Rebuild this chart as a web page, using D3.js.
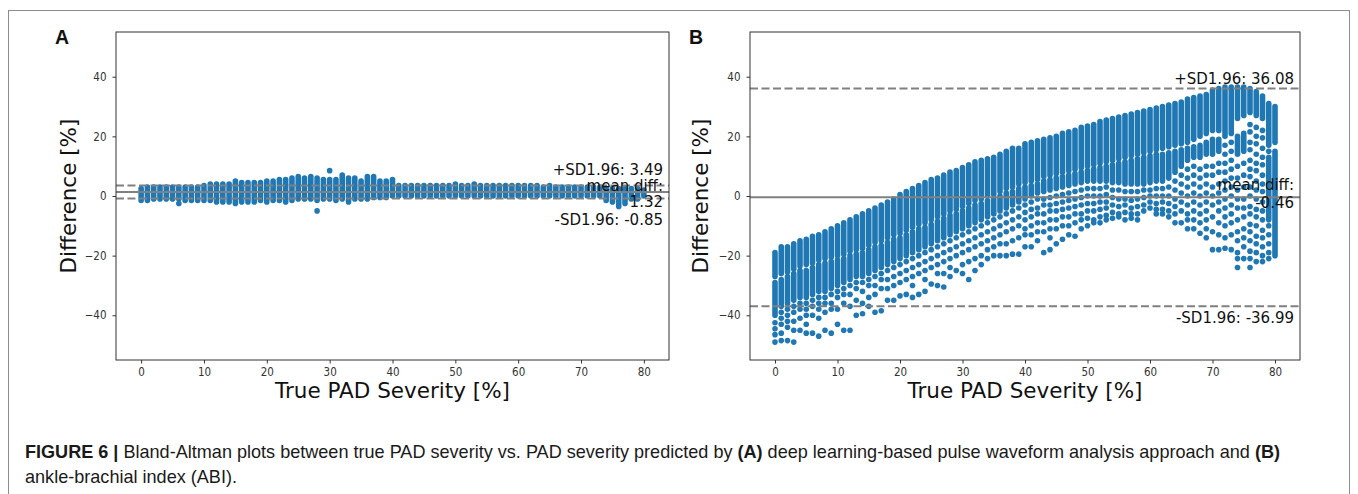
<!DOCTYPE html>
<html>
<head>
<meta charset="utf-8">
<script src="https://cdn.jsdelivr.net/npm/d3@7/dist/d3.min.js"></script>
<style>
  body { margin: 0; background: #fff; }
  svg { display: block; }
  .tick-label { font-family: "DejaVu Sans Condensed", "DejaVu Sans", sans-serif; font-stretch: condensed; font-size: 11.5px; fill: #333; }
  .axis-title { font-family: "DejaVu Sans", sans-serif; font-size: 21.5px; fill: #111; }
  .annot { font-family: "DejaVu Sans", sans-serif; font-size: 15px; fill: #111; }
  .panel-tag { font-family: "Liberation Sans", Arial, sans-serif; font-weight: bold; font-size: 19.5px; fill: #111; }
  .caption { font-family: "Liberation Sans Narrow", "Liberation Sans", Arial, sans-serif; font-size: 17.5px; fill: #1a1a1a; }
</style>
</head>
<body>
<svg id="fig" width="1358" height="494"></svg>
<script>
// True PAD severity levels (x categories, %)
const severity = [0,1,2,3,4,5,6,7,8,9,10,11,12,13,14,15,16,17,18,19,20,
  21,22,23,24,25,26,27,28,29,30,31,32,33,34,35,36,37,38,39,40,
  41,42,43,44,45,46,47,48,49,50,51,52,53,54,55,56,57,58,59,60,
  61,62,63,64,65,66,67,68,69,70,71,72,73,74,75,76,77,78,79,80];

const xTicks = [0, 10, 20, 30, 40, 50, 60, 70, 80];
const yTicks = [-40, -20, 0, 20, 40];

// Summary statistics per panel: [A, B]
const panelTags = ["A", "B"];
const meanDiff = [1.32, -0.46];
const sdUpper  = [3.49, 36.08];
const sdLower  = [-0.85, -36.99];

// Panel A: stacked markers at each severity, as [low, high] runs of difference (%)
const aRuns = [
  [-1.5,2.5],[-1.5,3],[-1,3],[-1,3],[-1,3],[-1,3],[-1,3],[-1.5,3],[-1.5,3],[-1.5,3],[-1.5,3.5],
  [-1.5,4],[-2,4],[-2,4],[-2,4],[-2.5,5],[-2,4.5],[-2,4.5],[-2,4.5],[-1.5,4.5],[-2,5],
  [-1.5,5],[-1.5,5.5],[-2,5.5],[-1.5,6],[-1,6.5],[-1,6],[-1,6.5],[-1.5,6],[-1,5.5],[-1,5.5],
  [-1.5,5.5],[-1,7],[-2,6],[-1,6],[-1,5],[-1,6.5],[-0.5,6.5],[-0.5,5],[-0.5,5],[0,5.5],
  [0,3.5],[0,3.5],[0,3.5],[0,3.5],[0,3.5],[0,3.5],[0,3.5],[0,3.5],[0,3.5],[0,4],
  [0,3.5],[0,3.5],[0,4],[0,3.5],[0,3.5],[0,3.5],[0,3.5],[0,3.5],[0,3.5],[0,3.5],
  [0,3.5],[0,3.5],[0,3.5],[0,3],[0,3.5],[0,3],[0,3],[0,3],[0,3],[0,3],
  [0,3],[0,3],[0,3],[-1.5,2.5],[-2,2.5],[-3.5,2.5],[-2.5,2.5],[-1,2.5],[-1,2.5],[0,2]
];
// Panel A: isolated markers
const aOutSeverity = [6, 28, 30];
const aOutDiff = [-2.5, -5, 8.5];

// Panel B: dense runs of markers per severity, [low, high] difference (%)
const bRuns = [
  [[-40,-29],[-27,-19]], [[-37,-28],[-26,-17]], [[-36,-27],[-25.5,-17]], [[-35,-26],[-24.5,-16]],
  [[-34,-25],[-23.5,-15]], [[-34,-25],[-23,-14.5]], [[-33,-24],[-22.5,-13.5]], [[-32,-23],[-21.5,-13]],
  [[-32,-22.5],[-21,-12]], [[-31,-22],[-20.5,-11]], [[-30,-21.5],[-20,-10]], [[-29,-21],[-19.5,-9]],
  [[-28,-20],[-18.5,-8]], [[-27,-19.5],[-18,-7]], [[-27,-19],[-17.5,-6]], [[-26,-18],[-16.5,-5]],
  [[-25,-17],[-15.5,-4]], [[-24,-16.5],[-15,-3]], [[-23,-15.5],[-14,-2]], [[-22,-14.5],[-13,-1]],
  [[-21,-14],[-12.5,0.5]], [[-20,-13],[-11.5,1.5]], [[-19,-12],[-10.5,2.5]], [[-18,-11],[-9.5,3.5]],
  [[-17,-10.5],[-9,4.5]], [[-16,-9.5],[-8,5.5]], [[-15,-8.5],[-7,6]], [[-14,-7.5],[-6,7]],
  [[-13,-6.5],[-5,8]], [[-12,-6],[-4.5,8.5]], [[-11,-5],[-3.5,9.5]], [[-10,-4],[-2.5,10.5]],
  [[-9,-3],[-1.5,11.5]], [[-8,-2.5],[-1,12]], [[-7,-1.5],[0,12.5]], [[-6,-1],[0.5,13]],
  [[-5,0],[1.5,14]], [[-4,1],[2.5,15]], [[-3,1.5],[3,16]], [[-2,2.5],[4,16]],
  [[-1,3],[4.5,17.5]], [[0,3.5],[5,18]], [[1,4],[5.5,18.5]], [[1.5,5],[6.5,19]],
  [[2,5.5],[7,19.5]], [[2.5,6],[7.5,20]], [[3,6.5],[8,21]], [[3.5,7],[8.5,21.5]],
  [[4,7.5],[9,22]], [[4.5,8],[9.5,23]], [[5,8.5],[10,23.5]], [[5,9],[10.5,24]],
  [[5,9.5],[11,25]], [[5,10],[11.5,25.5]], [[4.5,10.5],[12,26]], [[4.5,11],[12.5,26.5]],
  [[4,11.5],[13,27]], [[4,12],[13.5,27.5]], [[4,12.5],[14,28]], [[4,13],[14.5,28.5]],
  [[4.5,13.5],[15,29]], [[5,14],[15.5,29.5]], [[5,14],[16,30]], [[6,14.5],[16.5,30.5]],
  [[8,15],[17,31]], [[10,15.5],[17.5,31.5]], [[12,16],[18,32.5]], [[13,16.5],[19,33]],
  [[13,17],[20,33.5]], [[14,18],[21,34]], [[14,19],[22,35.5]], [[15,19],[22,36]],
  [[20,36.5]], [[21,36.5]], [[14,20],[26,36.5]], [[15,21],[27,36.5]],
  [[28,36]], [[27,35]], [[26,33.5]], [[-8,13],[17,31]], [[-20,15],[18,30]]
];

// Panel B: individual markers below/around the dense runs, per severity
const bDots = [
  [-42.5,-44.5,-46.5,-49], [-39,-41,-43,-46,-48.5], [-38,-40,-42,-44,-48.5], [-37,-39,-42,-45,-49],
  [-36,-38,-41,-45], [-36,-38,-40,-43,-46], [-35,-37,-40,-46], [-34,-36,-38,-41,-47],
  [-34,-36,-39,-45], [-33,-36,-38,-46], [-32,-34,-38,-43], [-31,-33,-36,-45],
  [-30,-33,-37,-45], [-29,-31,-35,-40], [-29,-32,-36,-39.5], [-28,-30,-34,-37],
  [-27,-30,-33,-39], [-26,-28,-31,-38.5], [-25,-28,-31,-35], [-24,-27,-30,-35],
  [-23,-26,-29,-33.5], [-22,-25,-28,-33], [-21,-24,-27,-30,-34], [-20,-23,-26,-33],
  [-19,-22,-25,-28,-32], [-18,-21,-24,-29.5], [-17,-20,-23,-26,-30], [-16,-19,-22,-26,-30.5],
  [-15,-18,-21,-24,-27], [-14,-17,-20,-25], [-13,-16,-19,-23,-26], [-12,-15,-18,-22,-28],
  [-11,-14,-17,-21,-25], [-10,-13,-16,-20,-23], [-9,-12,-15,-18,-21], [-8,-11,-14,-17,-20],
  [-7,-10,-13,-16,-20], [-6,-9,-12,-16,-20], [-5,-8,-11,-15,-19.5], [-4,-7,-10,-14,-19.5],
  [-3,-5.5,-8,-11,-13,-17], [-2,-4.5,-7,-10,-13,-17], [-1,-4,-6,-9,-12,-15], [-1,-3,-6,-9,-12,-19],
  [-0.5,-3,-5,-8,-11,-14,-18], [0,-2.5,-5,-8,-11,-16], [0.5,-2,-4.5,-7,-10,-14.5], [1,-1.5,-4,-7,-10,-13],
  [1.5,-1,-3.5,-6,-9,-13.5], [2,-0.5,-3,-6,-8,-11], [2.5,0,-2.5,-5,-7.5,-10], [2.5,0,-2.5,-5,-8,-9],
  [2.5,0,-2,-4.5,-7,-9], [3,0.5,-2,-4,-6.5,-8], [2,-0.5,-3,-5.5,-7.5], [2,-1,-3.5,-6,-7],
  [1.5,-1,-3,-5.5,-8], [1.5,-1.5,-4,-6,-7.5], [1.5,-1,-3.5,-6,-8], [2,-0.5,-3,-5],
  [2,0,-2,-4], [2.5,0,-2.5,-4.5,-6], [2.5,0,-2,-4.5,-6], [3,0,-2.5,-5,-7],
  [5,2,-1,-3.5,-6,-9], [7,4,1,-2,-5,-9], [9,6,3,0,-3,-6,-8,-11], [10,7,4,1,-2,-5,-8,-11],
  [9,6,3,0,-3,-6,-9,-12.5], [10,7,4,1,-2,-5,-8,-11,-14], [10,7,3,0,-3,-7,-12,-18], [11,8,4,1,-2,-5,-9,-13,-18],
  [17,14,11,8,5,2,-1,-4,-7,-10,-14,-17.5], [18,15,12,9,6,3,0,-3,-6,-9,-13,-18],
  [10,6,2,-1,-4,-8,-12,-15,-19,-21,-24], [11,7,3,-1,-4,-7,-11,-14,-17,-21],
  [24,21.5,18,15.5,12,9,6.5,3,0,-3.5,-6,-9.5,-12,-15,-18.5,-21,-24],
  [23,20,17.5,14,11,8.5,5,2,-1,-4.5,-7,-10,-13.5,-16,-19,-22],
  [22,19.5,16,13,10.5,7,4,1.5,-2,-5,-8,-11.5,-14,-17,-20,-22],
  [15,-10,-13,-16,-19,-21], []
];

const BLUE = "#1f77b4";
const GREY = "#808080";
const R = 2.8;

const svg = d3.select("#fig");

// outer figure frame
svg.append("rect")
  .attr("x", 8.5).attr("y", 10.5).attr("width", 1341).attr("height", 520)
  .attr("fill", "none").attr("stroke", "#8c8c8c").attr("stroke-width", 1);

const panels = [
  { left: 116, right: 669, tagX: 55, yTitleX: 76, textOff: { up: -10.5, m1: -1.5, m2: 14.5, lo: 26.5 } },
  { left: 750, right: 1300, tagX: 689, yTitleX: 708, textOff: { up: -4, m1: -7, m2: 10.5, lo: 16.5 } }
];
const plotTop = 32, plotBottom = 360;

panels.forEach((p, pi) => {
  const x = d3.scaleLinear().domain([-4, 84]).range([p.left, p.right]);
  const y = d3.scaleLinear().domain([-55, 55]).range([plotBottom, plotTop]);
  const g = svg.append("g");

  // markers
  const marks = g.append("g").attr("fill", BLUE);
  if (pi === 0) {
    const runs = aRuns.map((r, i) => ({ s: severity[i], lo: r[0], hi: r[1] }));
    marks.selectAll("rect").data(runs).join("rect")
      .attr("x", d => x(d.s) - R).attr("width", 2 * R)
      .attr("y", d => y(d.hi) - R).attr("height", d => y(d.lo) - y(d.hi) + 2 * R)
      .attr("rx", R).attr("ry", R);
    marks.selectAll("circle").data(aOutSeverity.map((s, i) => ({ s, v: aOutDiff[i] }))).join("circle")
      .attr("cx", d => x(d.s)).attr("cy", d => y(d.v)).attr("r", R);
  } else {
    const runs = bRuns.flatMap((col, i) => col.map(r => ({ s: severity[i], lo: r[0], hi: r[1] })));
    marks.selectAll("rect").data(runs).join("rect")
      .attr("x", d => x(d.s) - R).attr("width", 2 * R)
      .attr("y", d => y(d.hi) - R).attr("height", d => y(d.lo) - y(d.hi) + 2 * R)
      .attr("rx", R).attr("ry", R);
    const dots = bDots.flatMap((col, i) => col.map(v => ({ s: severity[i], v })));
    marks.selectAll("circle").data(dots).join("circle")
      .attr("cx", d => x(d.s)).attr("cy", d => y(d.v)).attr("r", R);
  }

  // mean and limits of agreement
  const refLines = [
    { v: meanDiff[pi], dash: null },
    { v: sdUpper[pi], dash: "8,3.5" },
    { v: sdLower[pi], dash: "8,3.5" }
  ];
  g.append("g").selectAll("line").data(refLines).join("line")
    .attr("x1", p.left).attr("x2", p.right)
    .attr("y1", d => y(d.v)).attr("y2", d => y(d.v))
    .attr("stroke", GREY).attr("stroke-width", 2)
    .attr("stroke-dasharray", d => d.dash);

  // frame
  g.append("rect").attr("x", p.left).attr("y", plotTop)
    .attr("width", p.right - p.left).attr("height", plotBottom - plotTop)
    .attr("fill", "none").attr("stroke", "#333").attr("stroke-width", 1);

  // axes
  const xAxis = d3.axisBottom(x).tickValues(xTicks).tickSize(3.5).tickPadding(4)
    .tickFormat(d => d3.format("d")(d));
  const yAxis = d3.axisLeft(y).tickValues(yTicks).tickSize(3.5).tickPadding(6)
    .tickFormat(d => (d < 0 ? "\u2212" : "") + Math.abs(d));
  const gx = g.append("g").attr("transform", `translate(0,${plotBottom})`).call(xAxis);
  const gy = g.append("g").attr("transform", `translate(${p.left},0)`).call(yAxis);
  [gx, gy].forEach(ax => {
    ax.attr("font-family", null).attr("font-size", null);
    ax.select(".domain").remove();
    ax.selectAll(".tick line").attr("stroke", "#333");
    ax.selectAll(".tick text").attr("class", "tick-label").attr("fill", null);
  });

  // axis titles
  g.append("text").attr("class", "axis-title")
    .attr("x", (p.left + p.right) / 2).attr("y", 398)
    .attr("text-anchor", "middle").text("True PAD Severity [%]");
  g.append("text").attr("class", "axis-title")
    .attr("transform", `translate(${p.yTitleX},${(plotTop + plotBottom) / 2}) rotate(-90)`)
    .attr("text-anchor", "middle").text("Difference [%]");

  // annotations
  const tx = p.right - 6;
  const o = p.textOff;
  const fmt = v => v.toFixed(2);
  const notes = [
    { y: y(sdUpper[pi]) + o.up, t: "+SD1.96: " + fmt(sdUpper[pi]) },
    { y: y(meanDiff[pi]) + o.m1, t: "mean diff:" },
    { y: y(meanDiff[pi]) + o.m2, t: fmt(meanDiff[pi]) },
    { y: y(sdLower[pi]) + o.lo, t: "-SD1.96: " + fmt(sdLower[pi]) }
  ];
  g.append("g").selectAll("text").data(notes).join("text")
    .attr("class", "annot").attr("x", tx).attr("y", d => d.y)
    .attr("text-anchor", "end").text(d => d.t);

  // panel tag
  svg.append("text").attr("class", "panel-tag").attr("x", p.tagX).attr("y", 44).text(panelTags[pi]);
});

// caption
const cap = svg.append("g").attr("class", "caption");
const line1 = cap.append("text").attr("x", 0).attr("y", 0);
[
  ["FIGURE 6 | ", true],
  ["Bland-Altman plots between true PAD severity vs. PAD severity predicted by ", false],
  ["(A)", true],
  [" deep learning-based pulse waveform analysis approach and ", false],
  ["(B)", true]
].forEach(([t, b]) => line1.append("tspan").attr("font-weight", b ? "bold" : null).text(t));
cap.append("text").attr("x", 0).attr("y", 25).text("ankle-brachial index (ABI).");
const w = line1.node().getComputedTextLength();
const sx = 1256 / w;
cap.attr("transform", `translate(25,458) scale(${sx},1)`);
</script>
</body>
</html>
